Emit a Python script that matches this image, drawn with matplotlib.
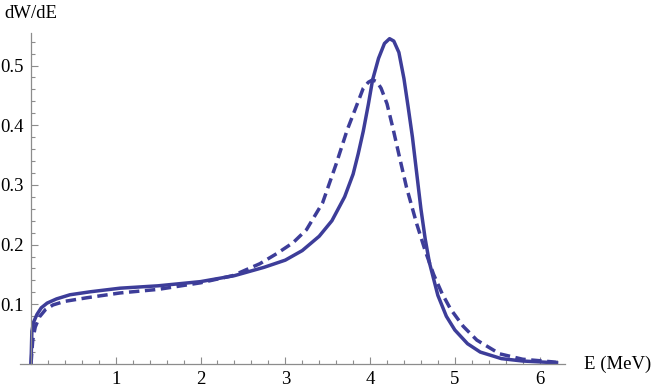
import numpy as np
import matplotlib.pyplot as plt
from matplotlib.ticker import FixedLocator

# energy grid and spectra
e_solid = [0, 0.01, 0.03, 0.07, 0.12, 0.19, 0.3, 0.46, 0.7, 1.05, 1.5, 2.0, 2.4,
           2.75, 3.0, 3.2, 3.4, 3.55, 3.7, 3.8, 3.86, 3.92, 3.98, 4.03, 4.1, 4.17,
           4.23, 4.28, 4.34, 4.4, 4.45, 4.5, 4.55, 4.6, 4.65, 4.7, 4.8, 4.9, 5.0,
           5.15, 5.3, 5.55, 5.8, 6.2]
w_solid = [0, 0.055, 0.07, 0.083, 0.094, 0.102, 0.109, 0.116, 0.121, 0.127, 0.131,
           0.138, 0.148, 0.162, 0.174, 0.19, 0.214, 0.24, 0.28, 0.318, 0.352, 0.39,
           0.435, 0.476, 0.512, 0.537, 0.545, 0.541, 0.522, 0.478, 0.43, 0.38, 0.32,
           0.26, 0.21, 0.17, 0.115, 0.08, 0.057, 0.034, 0.02, 0.009, 0.005, 0.002]

e_dashed = [0, 0.02, 0.05, 0.1, 0.17, 0.26, 0.4, 0.66, 1.05, 1.5, 2.0, 2.38, 2.7,
            2.9, 3.09, 3.25, 3.44, 3.6, 3.73, 3.82, 3.92, 3.98, 4.03, 4.08, 4.13,
            4.2, 4.27, 4.35, 4.43, 4.55, 4.65, 4.75, 4.85, 4.95, 5.1, 5.26, 5.53,
            5.8, 6.2]
w_dashed = [0, 0.04, 0.062, 0.079, 0.091, 0.099, 0.105, 0.111, 0.119, 0.125, 0.136,
            0.148, 0.168, 0.185, 0.203, 0.225, 0.27, 0.335, 0.392, 0.425, 0.462, 0.472,
            0.476, 0.473, 0.462, 0.436, 0.395, 0.345, 0.296, 0.235, 0.19, 0.15, 0.118,
            0.092, 0.063, 0.04, 0.017, 0.008, 0.003]

x_major = [1, 2, 3, 4, 5, 6]
y_major = [0.1, 0.2, 0.3, 0.4, 0.5]

plt.rcParams['font.family'] = ['Liberation Serif', 'DejaVu Serif']
color = '#3d3d99'
axis_color = '#8c8c8c'

fig = plt.figure(figsize=(6.54, 3.92), dpi=100)
ax = fig.add_axes([20 / 654, 28 / 392, 545 / 654, 331 / 392])

ax.plot(e_solid, w_solid, color=color, lw=2.5, solid_joinstyle='round')
ax.plot(e_dashed, w_dashed, color=color, lw=2.5, linestyle=(0, (3.0, 1.6)))

ax.set_xlim(-0.13, 6.3)
ax.set_ylim(0, 0.5545)

# axes crossing at the origin
ax.spines['top'].set_visible(False)
ax.spines['right'].set_visible(False)
ax.spines['left'].set_position(('data', 0))
for s in ('left', 'bottom'):
    ax.spines[s].set_color(axis_color)
    ax.spines[s].set_linewidth(0.9)

ax.xaxis.set_major_locator(FixedLocator(x_major))
ax.xaxis.set_minor_locator(FixedLocator([v for v in np.arange(0.2, 6.25, 0.2)
                                         if abs(v - round(v)) > 1e-6]))
ax.yaxis.set_major_locator(FixedLocator(y_major))
ax.yaxis.set_minor_locator(FixedLocator([v for v in np.arange(0.02, 0.55, 0.02)
                                         if abs(v * 10 - round(v * 10)) > 1e-6]))
ax.set_xticklabels([str(v) for v in x_major])
ax.set_yticklabels([str(v) for v in y_major])

ax.tick_params(which='both', direction='in', color=axis_color, width=0.8,
               labelsize=13.5, labelcolor='black')
ax.tick_params(which='major', length=5)
ax.tick_params(which='minor', length=3)
ax.tick_params(axis='x', pad=5)
ax.tick_params(axis='y', pad=5)

fig.text(584 / 654, 1 - 364 / 392, 'E (MeV)', fontsize=13.5, va='center', ha='left')
fig.text(4 / 654, 1 - 13 / 392, 'dW/dE', fontsize=13.5, va='center', ha='left')

fig.savefig('out.png', dpi=100)
